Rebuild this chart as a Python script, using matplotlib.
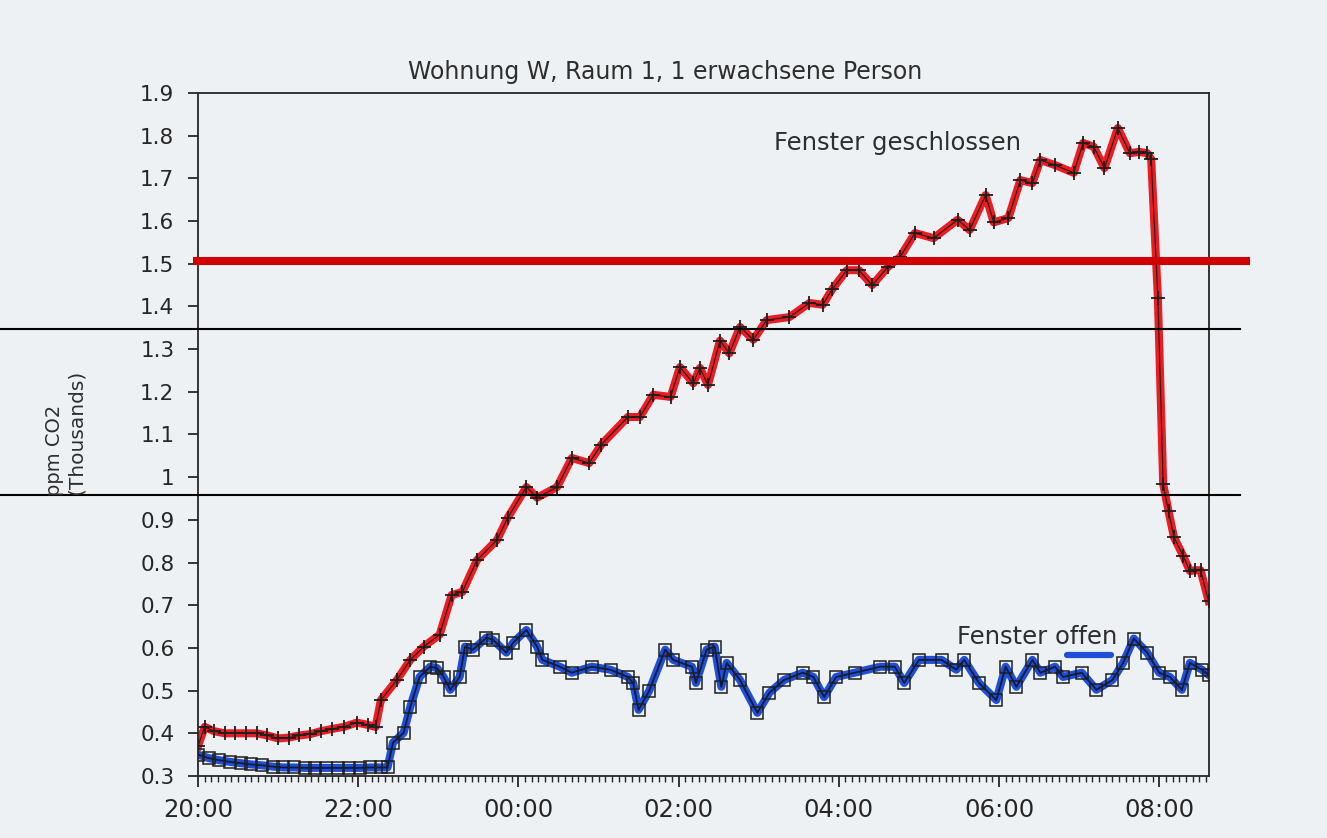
import numpy as np
import matplotlib.pyplot as plt
from matplotlib.lines import Line2D
from matplotlib.ticker import FixedLocator, MultipleLocator, FuncFormatter

TITLE = "Wohnung W, Raum 1, 1 erwachsene Person"
LABEL_CLOSED = "Fenster geschlossen"
LABEL_OPEN = "Fenster offen"

# minutes after 20:00, ppm CO2 in thousands
RED_MIN = [0, 5, 12, 20, 28, 36, 44, 52, 60, 68, 76, 84, 92, 100, 109, 119, 127, 133,
           137, 149, 159, 169, 181, 190, 198, 209, 224, 232, 246, 254, 269, 280, 293, 302,
           322, 331, 341, 354, 361, 371, 376, 382, 391, 398, 406, 416, 426, 443, 458, 468,
           475, 486, 495, 505, 517, 526, 537, 551, 569, 578, 590, 596, 607, 616, 625, 631,
           642, 656, 663, 671, 679, 689, 698, 705, 711, 714, 719, 723, 727, 731, 738, 743,
           747, 751, 757]
RED_PPM = [0.37, 0.415, 0.405, 0.40, 0.40, 0.40, 0.40, 0.395, 0.388, 0.39, 0.395, 0.398,
           0.405, 0.41, 0.415, 0.425, 0.42, 0.415,
           0.478, 0.525, 0.572, 0.603, 0.631, 0.724, 0.731, 0.806, 0.853, 0.905, 0.977,
           0.952, 0.977, 1.045, 1.033, 1.076, 1.141, 1.141, 1.193, 1.188, 1.258, 1.22,
           1.256, 1.216, 1.32, 1.29, 1.352, 1.322, 1.368, 1.375, 1.408, 1.404, 1.44,
           1.485, 1.485, 1.45, 1.493, 1.516, 1.572, 1.56, 1.603, 1.579, 1.661, 1.597,
           1.607, 1.696, 1.689, 1.743, 1.731, 1.713, 1.783, 1.774, 1.724, 1.818, 1.759,
           1.762, 1.759, 1.745, 1.42, 0.984, 0.92, 0.86, 0.815, 0.78, 0.782, 0.782, 0.71]

BLUE_MIN = [0, 8, 16, 24, 32, 40, 48, 56, 64, 72, 80, 88, 96, 105, 113, 121, 129, 137, 142,
            146, 154, 159, 166, 174, 179, 184, 189, 196, 200, 206, 216, 221, 231, 236, 246,
            254, 258, 271, 280, 295, 309, 322, 326, 330, 338, 350, 356, 370, 373, 381, 387,
            392, 396, 406, 419, 428, 439, 453, 461, 469, 478, 492, 511, 522, 529, 540, 557,
            568, 574, 585, 598, 605, 613, 625, 631, 642, 648, 662, 673, 685, 693, 701, 711,
            720, 728, 737, 743, 752, 757]
BLUE_PPM = [0.35, 0.342, 0.337, 0.333, 0.33, 0.327, 0.325, 0.322, 0.32, 0.32, 0.319, 0.319,
            0.319, 0.319, 0.319, 0.319, 0.32, 0.32, 0.32,
            0.378, 0.401, 0.462, 0.532, 0.556, 0.553, 0.532, 0.502, 0.532, 0.603, 0.596,
            0.624, 0.619, 0.589, 0.612, 0.642, 0.603, 0.572, 0.556, 0.542, 0.556, 0.549,
            0.532, 0.518, 0.455, 0.50, 0.596, 0.572, 0.556, 0.518, 0.596, 0.603, 0.509,
            0.565, 0.525, 0.448, 0.495, 0.525, 0.542, 0.532, 0.485, 0.532, 0.542, 0.556,
            0.556, 0.518, 0.572, 0.572, 0.549, 0.572, 0.518, 0.478, 0.556, 0.509, 0.572,
            0.542, 0.556, 0.532, 0.542, 0.502, 0.525, 0.565, 0.622, 0.589, 0.542, 0.532,
            0.502, 0.565, 0.549, 0.537]

LIMIT = 1.507
GUIDES = [1.347, 0.959]

Y_TICKS = [0.3, 0.4, 0.5, 0.6, 0.7, 0.8, 0.9, 1.0, 1.1, 1.2, 1.3, 1.4, 1.5, 1.6, 1.7, 1.8, 1.9]
X_TICKS = [0, 2, 4, 6, 8, 10, 12]
X_LABELS = ["20:00", "22:00", "00:00", "02:00", "04:00", "06:00", "08:00"]

PAPER = "#edf1f4"
INK = "#262626"
TXT = "#2e2e2e"
RED = "#ec1c24"
BLUE = "#1f4fd6"

W, H = 1327, 838
fig = plt.figure(figsize=(W / 100, H / 100), dpi=100, facecolor=PAPER)
ax = fig.add_axes([198 / W, 1 - 776 / H, (1209 - 198) / W, (776 - 93) / H])
ax.set_facecolor(PAPER)

red_t = np.array(RED_MIN) / 60.0
blue_t = np.array(BLUE_MIN) / 60.0

ax.plot(red_t, RED_PPM, '-', color=RED, lw=5.8, solid_joinstyle='round', zorder=2)
ax.plot(red_t, RED_PPM, '-', color='#3a1a10', lw=0.9, zorder=3)
ax.plot(red_t, RED_PPM, '+', color='#1e1e1e', ms=10, mew=1.3, zorder=4)

ax.plot(blue_t, BLUE_PPM, '-', color=BLUE, lw=5.8, solid_joinstyle='round', zorder=2)
ax.plot(blue_t, BLUE_PPM, '-', color='#101a3a', lw=1.3, zorder=3)
ax.plot(blue_t, BLUE_PPM, 's', mfc='none', mec='#1e1e1e', ms=9, mew=1.1, zorder=4)

# hand drawn limit and guide lines, running past the frame
ax.axhline(LIMIT, xmin=-0.001, xmax=1.037, color='#d00000', lw=5.8, clip_on=False, zorder=6)
for g in GUIDES:
    ax.axhline(g, xmin=-0.196, xmax=1.031, color='black', lw=1.5, clip_on=False, zorder=7)

ax.set_xlim(0, (1209 - 198) / 80.1)
ax.set_ylim(0.3, 1.9)

ax.xaxis.set_major_locator(FixedLocator(X_TICKS))
ax.set_xticklabels(X_LABELS)
ax.xaxis.set_minor_locator(MultipleLocator(5 / 60.0))
ax.yaxis.set_major_locator(FixedLocator(Y_TICKS))
ax.yaxis.set_major_formatter(FuncFormatter(lambda v, p: "%g" % round(v, 1)))

ax.tick_params(axis='x', which='major', direction='out', length=8, width=1.3,
               pad=8, labelsize=17.5, colors=INK)
ax.tick_params(axis='x', which='minor', direction='out', length=4.5, width=1.0, colors=INK)
ax.tick_params(axis='y', which='major', direction='out', length=7, width=1.3,
               pad=10, labelsize=15.5, colors=INK)
for s in ax.spines.values():
    s.set_color(INK)
    s.set_linewidth(1.3)

fig.text(665 / W, 1 - 72 / H, TITLE, ha='center', va='center', fontsize=17, color=TXT)
fig.text(55 / W, 1 - 450 / H, "ppm CO2", rotation=90, ha='center', va='center',
         fontsize=14, color=TXT)
fig.text(76 / W, 1 - 432 / H, "(Thousands)", rotation=90, ha='center', va='center',
         fontsize=14.5, color=TXT)
fig.text(897 / W, 1 - 143 / H, LABEL_CLOSED, ha='center', va='center', fontsize=17.5,
         color=TXT)
fig.text(957 / W, 1 - 637 / H, LABEL_OPEN, ha='left', va='center', fontsize=17.5,
         color=TXT)
fig.add_artist(Line2D([1067 / W, 1111 / W], [1 - 655 / H, 1 - 655 / H], lw=4.5,
                      color=BLUE, solid_capstyle='round'))

fig.savefig("out.png", dpi=100, facecolor=PAPER)
